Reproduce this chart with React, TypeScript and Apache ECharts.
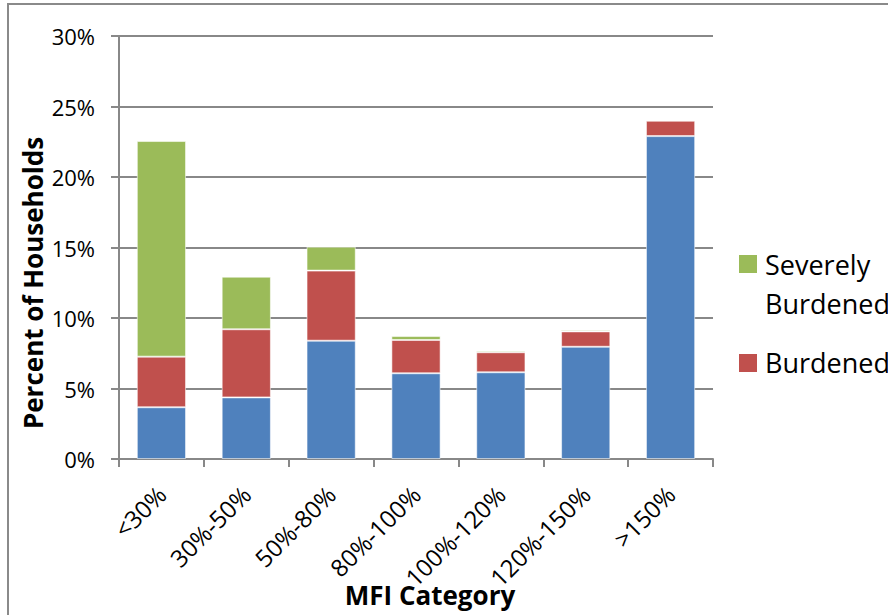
import React, { useEffect, useRef } from "react";
import * as echarts from "echarts";

// Household share by MFI category, stacked by cost-burden status
const categories = ["<30%", "30%-50%", "50%-80%", "80%-100%", "100%-120%", "120%-150%", ">150%"];
const notBurdened = [3.67, 4.37, 8.39, 6.08, 6.15, 7.96, 22.9];
const burdened = [3.59, 4.83, 4.97, 2.36, 1.42, 1.09, 1.09];
const severelyBurdened = [15.29, 3.73, 1.7, 0.28, 0.11, 0.1, 0.05];
const yTicks = [0, 5, 10, 15, 20, 25, 30];

const FONT = "'Open Sans', 'Noto Sans', sans-serif";
const AXIS_GREY = "#888888";

export default function App() {
  const ref = useRef<HTMLDivElement>(null);

  useEffect(() => {
    if (!ref.current) return;
    const chart = echarts.init(ref.current, null, { renderer: "svg" });

    const seg = (name: string, data: number[], color: string) => ({
      name,
      type: "bar" as const,
      stack: "total",
      data,
      barCategoryGap: "42%",
      itemStyle: { color, borderColor: "rgba(255,255,255,0.55)", borderWidth: 1 },
      emphasis: { disabled: true },
    });

    chart.setOption({
      animation: false,
      backgroundColor: "#ffffff",
      grid: { left: 119, right: 175, top: 36, bottom: 156, containLabel: false },
      xAxis: {
        type: "category",
        data: categories,
        axisLine: { show: true, lineStyle: { color: AXIS_GREY, width: 2 } },
        axisTick: { show: true, length: 8, lineStyle: { color: AXIS_GREY, width: 2 } },
        axisLabel: {
          rotate: 45,
          margin: 14,
          interval: 0,
          verticalAlign: "top",
          padding: [0, 12, 0, 0],
          fontFamily: FONT,
          fontSize: 24,
          color: "#000",
        },
      },
      yAxis: {
        type: "value",
        min: yTicks[0],
        max: yTicks[yTicks.length - 1],
        interval: 5,
        axisLine: { show: true, lineStyle: { color: AXIS_GREY, width: 2 } },
        axisTick: { show: true, length: 8, lineStyle: { color: AXIS_GREY, width: 2 } },
        splitLine: { show: true, lineStyle: { color: AXIS_GREY, width: 2 } },
        axisLabel: {
          margin: 24,
          fontFamily: FONT,
          fontSize: 22,
          color: "#000",
          formatter: (v: number) => `${v}%`,
        },
      },
      legend: { show: false },
      series: [
        seg("Not Burdened", notBurdened, "#4F81BD"),
        seg("Burdened", burdened, "#C0504D"),
        seg("Severely Burdened", severelyBurdened, "#9BBB59"),
      ],
      graphic: [
        {
          type: "rect",
          silent: true,
          shape: { x: 8, y: 4, width: 950, height: 700 },
          style: { fill: "none", stroke: "#8a8a8a", lineWidth: 2 },
        },
        {
          type: "text",
          x: 33,
          y: 283,
          rotation: Math.PI / 2,
          style: {
            text: "Percent of Households",
            fontFamily: FONT,
            fontWeight: "bold",
            fontSize: 26,
            fill: "#000",
            align: "center",
            verticalAlign: "middle",
          },
        },
        {
          type: "text",
          x: 430,
          y: 595,
          style: {
            text: "MFI Category",
            fontFamily: FONT,
            fontWeight: "bold",
            fontSize: 26,
            fill: "#000",
            align: "center",
            verticalAlign: "middle",
          },
        },
        // legend entries
        {
          type: "rect",
          shape: { x: 739, y: 255, width: 18, height: 18 },
          style: { fill: "#9BBB59" },
        },
        {
          type: "text",
          x: 765,
          y: 264,
          style: {
            text: "Severely",
            fontFamily: FONT,
            fontSize: 27,
            fill: "#000",
            align: "left",
            verticalAlign: "middle",
          },
        },
        {
          type: "text",
          x: 765,
          y: 303,
          style: {
            text: "Burdened",
            fontFamily: FONT,
            fontSize: 27,
            fill: "#000",
            align: "left",
            verticalAlign: "middle",
          },
        },
        {
          type: "rect",
          shape: { x: 739, y: 354, width: 18, height: 18 },
          style: { fill: "#C0504D" },
        },
        {
          type: "text",
          x: 765,
          y: 362,
          style: {
            text: "Burdened",
            fontFamily: FONT,
            fontSize: 27,
            fill: "#000",
            align: "left",
            verticalAlign: "middle",
          },
        },
      ],
    });

    return () => chart.dispose();
  }, []);

  return (
    <div
      ref={ref}
      style={{ position: "fixed", left: 0, top: 0, width: 888, height: 615, background: "#fff" }}
    />
  );
}
